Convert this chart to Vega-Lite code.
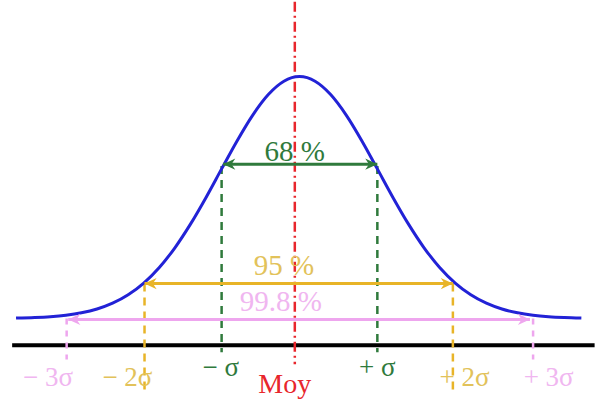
{
  "$schema": "https://vega.github.io/schema/vega-lite/v6.json",
  "width": 597,
  "height": 402,
  "padding": 0,
  "autosize": {"type": "fit", "contains": "padding"},
  "background": "white",
  "config": {"view": {"stroke": null}},
  "datasets": {
    "curve": [
      {"x": -3.64, "y": 0.0017}, {"x": -3.4, "y": 0.0039}, {"x": -3.2, "y": 0.0073}, {"x": -3.0, "y": 0.0132},
      {"x": -2.8, "y": 0.0231}, {"x": -2.6, "y": 0.0388}, {"x": -2.4, "y": 0.0628}, {"x": -2.2, "y": 0.0977},
      {"x": -2.0, "y": 0.1463}, {"x": -1.8, "y": 0.2107}, {"x": -1.6, "y": 0.2922}, {"x": -1.4, "y": 0.3899},
      {"x": -1.2, "y": 0.5005}, {"x": -1.0, "y": 0.6184}, {"x": -0.8, "y": 0.7352}, {"x": -0.6, "y": 0.8411},
      {"x": -0.4, "y": 0.926}, {"x": -0.2, "y": 0.981}, {"x": 0.0, "y": 1.0}, {"x": 0.2, "y": 0.981},
      {"x": 0.4, "y": 0.926}, {"x": 0.6, "y": 0.8411}, {"x": 0.8, "y": 0.7352}, {"x": 1.0, "y": 0.6184},
      {"x": 1.2, "y": 0.5005}, {"x": 1.4, "y": 0.3899}, {"x": 1.6, "y": 0.2922}, {"x": 1.8, "y": 0.2107},
      {"x": 2.0, "y": 0.1463}, {"x": 2.2, "y": 0.0977}, {"x": 2.4, "y": 0.0628}, {"x": 2.6, "y": 0.0388},
      {"x": 2.8, "y": 0.0231}, {"x": 3.0, "y": 0.0132}, {"x": 3.2, "y": 0.0073}, {"x": 3.4, "y": 0.0039},
      {"x": 3.62, "y": 0.0018}
    ],
    "verticals": [
      {"group": "mean", "x": -0.06, "y": 1.31, "y2": -0.19},
      {"group": "g1", "x": -1.0, "y": 0.63, "y2": -0.14},
      {"group": "g1", "x": 1.0, "y": 0.63, "y2": -0.14},
      {"group": "g2", "x": -1.99, "y": 0.144, "y2": -0.3},
      {"group": "g2", "x": 1.97, "y": 0.144, "y2": -0.3},
      {"group": "g3", "x": -2.99, "y": 0.0, "y2": -0.17},
      {"group": "g3", "x": 3.0, "y": 0.0, "y2": -0.17}
    ],
    "arrows": [
      {"group": "g1", "x": -0.98, "x2": 1.0, "y": 0.638},
      {"group": "g2", "x": -1.99, "x2": 1.97, "y": 0.144},
      {"group": "g3", "x": -2.97, "x2": 2.96, "y": -0.004}
    ],
    "heads": [
      {"group": "g1", "dir": "left", "x": -0.98, "y": 0.638},
      {"group": "g1", "dir": "right", "x": 1.0, "y": 0.638},
      {"group": "g2", "dir": "left", "x": -1.99, "y": 0.144},
      {"group": "g2", "dir": "right", "x": 1.97, "y": 0.144},
      {"group": "g3", "dir": "left", "x": -2.97, "y": -0.004},
      {"group": "g3", "dir": "right", "x": 2.96, "y": -0.004}
    ],
    "baseline": [{"x": -3.69, "x2": 3.79, "y": -0.111}],
    "pct": [
      {"group": "g1", "text": "68 %", "x": -0.06, "y": 0.69},
      {"group": "t2", "text": "95 %", "x": -0.2, "y": 0.218},
      {"group": "t3", "text": "99.8 %", "x": -0.24, "y": 0.066}
    ],
    "sigmas": [
      {"group": "t3", "text": "− 3σ", "x": -3.23, "y": -0.247},
      {"group": "t2", "text": "− 2σ", "x": -2.21, "y": -0.247},
      {"group": "g1", "text": "− σ", "x": -1.01, "y": -0.206},
      {"group": "g1", "text": "+ σ", "x": 1.0, "y": -0.206},
      {"group": "t2", "text": "+ 2σ", "x": 2.12, "y": -0.247},
      {"group": "t3", "text": "+ 3σ", "x": 3.2, "y": -0.247}
    ],
    "meanLabel": [
      {"group": "mean", "text": "Moy", "x": -0.19, "y": -0.276}
    ]
  },
  "layer": [
    {
      "data": {"name": "baseline"},
      "mark": {"type": "rule", "color": "#000000", "strokeWidth": 4},
      "encoding": {
        "x": {"field": "x", "type": "quantitative", "scale": {"domain": [-3.846, 3.808], "nice": false, "zero": false}, "axis": null},
        "x2": {"field": "x2"},
        "y": {"field": "y", "type": "quantitative", "scale": {"domain": [-0.3457, 1.3086], "nice": false, "zero": false}, "axis": null}
      }
    },
    {
      "data": {"name": "verticals"},
      "mark": {"type": "rule", "strokeWidth": 2.5},
      "encoding": {
        "x": {"field": "x", "type": "quantitative"},
        "y": {"field": "y", "type": "quantitative"},
        "y2": {"field": "y2"},
        "color": {"field": "group", "type": "nominal", "legend": null,
          "scale": {"domain": ["g1", "g2", "g3", "mean", "t2", "t3"], "range": ["#2f7a3c", "#e8b428", "#eea6ee", "#e8262c", "#e2c25a", "#f0b6f0"]}},
        "strokeDash": {"field": "group", "type": "nominal", "legend": null,
          "scale": {"domain": ["g1", "g2", "g3", "mean"], "range": [[8, 6], [8, 6], [6, 6], [10, 4, 2, 4]]}}
      }
    },
    {
      "data": {"name": "curve"},
      "mark": {"type": "line", "color": "#2222d6", "strokeWidth": 3, "interpolate": "monotone"},
      "encoding": {
        "x": {"field": "x", "type": "quantitative"},
        "y": {"field": "y", "type": "quantitative"}
      }
    },
    {
      "data": {"name": "arrows"},
      "mark": {"type": "rule", "strokeWidth": 3},
      "encoding": {
        "x": {"field": "x", "type": "quantitative"},
        "x2": {"field": "x2"},
        "y": {"field": "y", "type": "quantitative"},
        "color": {"field": "group", "type": "nominal", "legend": null}
      }
    },
    {
      "data": {"name": "heads"},
      "mark": {"type": "point", "filled": true, "opacity": 1, "size": 230},
      "encoding": {
        "x": {"field": "x", "type": "quantitative"},
        "y": {"field": "y", "type": "quantitative"},
        "color": {"field": "group", "type": "nominal", "legend": null},
        "shape": {"field": "dir", "type": "nominal", "legend": null,
          "scale": {"domain": ["left", "right"], "range": ["M 0 0 L 1.6 -0.75 L 1.1 0 L 1.6 0.75 Z", "M 0 0 L -1.6 -0.75 L -1.1 0 L -1.6 0.75 Z"]}}
      }
    },
    {
      "data": {"name": "pct"},
      "mark": {"type": "text", "font": "Liberation Serif", "fontSize": 29, "baseline": "middle", "align": "center"},
      "encoding": {
        "x": {"field": "x", "type": "quantitative"},
        "y": {"field": "y", "type": "quantitative"},
        "text": {"field": "text", "type": "nominal"},
        "color": {"field": "group", "type": "nominal", "legend": null}
      }
    },
    {
      "data": {"name": "sigmas"},
      "mark": {"type": "text", "font": "Liberation Serif", "fontSize": 27, "baseline": "middle", "align": "center"},
      "encoding": {
        "x": {"field": "x", "type": "quantitative"},
        "y": {"field": "y", "type": "quantitative"},
        "text": {"field": "text", "type": "nominal"},
        "color": {"field": "group", "type": "nominal", "legend": null}
      }
    },
    {
      "data": {"name": "meanLabel"},
      "mark": {"type": "text", "font": "Liberation Serif", "fontSize": 28, "baseline": "middle", "align": "center"},
      "encoding": {
        "x": {"field": "x", "type": "quantitative"},
        "y": {"field": "y", "type": "quantitative"},
        "text": {"field": "text", "type": "nominal"},
        "color": {"field": "group", "type": "nominal", "legend": null}
      }
    }
  ],
  "resolve": {"scale": {"color": "shared"}}
}
